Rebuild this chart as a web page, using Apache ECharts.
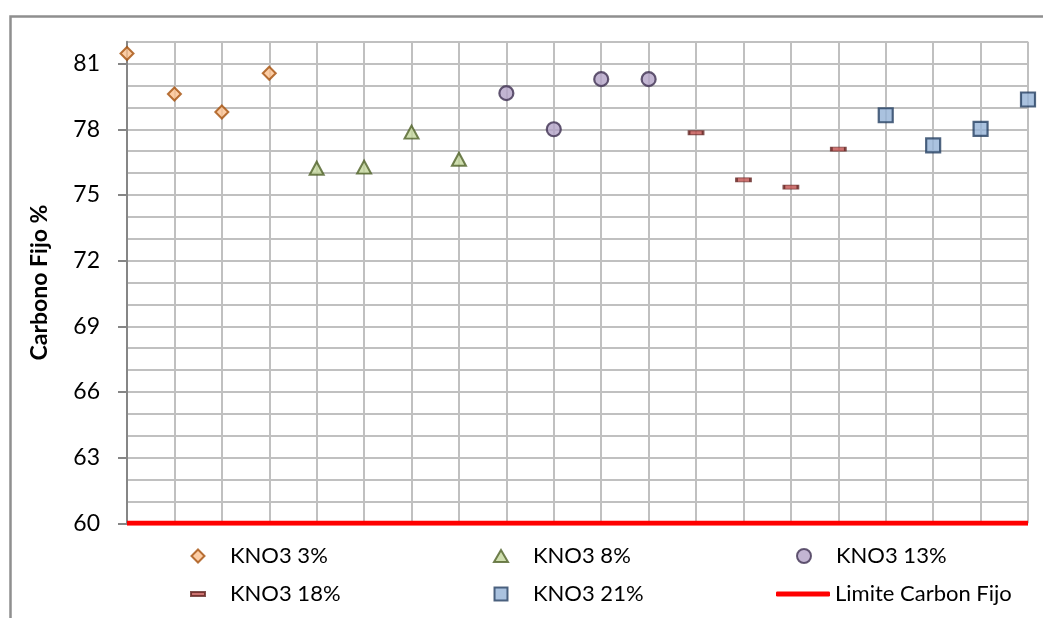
<!DOCTYPE html>
<html>
<head>
<meta charset="utf-8">
<script src="https://cdn.jsdelivr.net/npm/echarts@6/dist/echarts.min.js"></script>
<style>
html,body{margin:0;padding:0;background:#fff;}
#chart{width:1043px;height:618px;}
</style>
</head>
<body>
<div id="chart"></div>
<script>
// ---- data ----
const xKNO3_3 = [1, 2, 3, 4];
const yKNO3_3 = [81.46, 79.61, 78.79, 80.56];
const xKNO3_8 = [5, 6, 7, 8];
const yKNO3_8 = [76.22, 76.27, 77.87, 76.63];
const xKNO3_13 = [9, 10, 11, 12];
const yKNO3_13 = [79.65, 78.0, 80.29, 80.29];
const xKNO3_18 = [13, 14, 15, 16];
const yKNO3_18 = [77.84, 75.69, 75.36, 77.09];
const xKNO3_21 = [17, 18, 19, 20];
const yKNO3_21 = [78.64, 77.26, 78.02, 79.36];
const limitX = [1, 20];
const limitY = [60, 60];
const yTicks = [60, 63, 66, 69, 72, 75, 78, 81];
const seriesNames = ['KNO3 3%', 'KNO3 8%', 'KNO3 13%', 'KNO3 18%', 'KNO3 21%', 'Limite Carbon Fijo'];
const yAxisName = 'Carbono Fijo %';

const zip = (xs, ys) => xs.map((x, i) => [x, ys[i]]);
const FONT = 'Lato';

const chart = echarts.init(document.getElementById('chart'), null, {renderer: 'canvas'});

// legend icon paths: bounding box fixed to 54x14 so the glyph keeps its shape
const BOX = 'M0,0M54,14';
const icons = [
  'path://' + BOX + 'M27,0.5L33.5,7L27,13.5L20.5,7Z',
  'path://' + BOX + 'M27,1L34,13L20,13Z',
  'path://' + BOX + 'M34,7A7,7,0,1,1,20,7A7,7,0,1,1,34,7Z',
  'path://' + BOX + 'M20,5h14v4h-14Z',
  'path://' + BOX + 'M20.5,0.5h13v13h-13Z',
  'roundRect'
];

function legendAt(i, left, top, extra) {
  return Object.assign({
    data: [seriesNames[i]], left: left, top: top, orient: 'horizontal', padding: 0,
    itemWidth: 54, itemHeight: 14, selectedMode: false, icon: icons[i],
    textStyle: {fontFamily: FONT, fontSize: 22, color: '#000', lineHeight: 24}
  }, extra || {});
}

const option = {
  backgroundColor: '#fff',
  animation: false,
  graphic: [{
    type: 'rect', left: 8, top: 14, z: -10,
    shape: {x: 0, y: 0, width: 1100, height: 700},
    style: {fill: 'none', stroke: '#8f8f8f', lineWidth: 2.5}
  }],
  grid: {left: 127, right: 15, top: 41.7, bottom: 94.7, containLabel: false},
  legend: [
    legendAt(0, 170, 544),
    legendAt(1, 473, 544),
    legendAt(2, 776, 544),
    legendAt(3, 170, 582),
    legendAt(4, 473, 582),
    legendAt(5, 776, 582, {itemHeight: 5})
  ],
  xAxis: {
    type: 'value', min: 1, max: 20, interval: 1,
    axisLine: {show: false}, axisTick: {show: false}, axisLabel: {show: false},
    splitLine: {show: true, lineStyle: {color: '#c0c0c0', width: 2}}
  },
  yAxis: [{
    type: 'value', min: 60, max: 82, interval: 1,
    name: yAxisName, nameLocation: 'middle', nameGap: 76, nameRotate: 90,
    nameTextStyle: {fontFamily: FONT, fontSize: 23, fontWeight: 'bold', color: '#000'},
    axisLine: {show: false},
    axisTick: {show: false},
    axisLabel: {show: false},
    splitLine: {show: true, lineStyle: {color: '#c0c0c0', width: 2}}
  }, {
    type: 'value', min: 60, max: 82, interval: 1, position: 'left',
    axisLine: {show: true, lineStyle: {color: '#868686', width: 2}},
    axisTick: {show: true, length: 9, customValues: yTicks, lineStyle: {color: '#868686', width: 2}},
    axisLabel: {customValues: yTicks, margin: 27, fontFamily: FONT, fontSize: 23, color: '#000'},
    splitLine: {show: false}
  }],
  series: [
    {name: seriesNames[0], type: 'scatter', data: zip(xKNO3_3, yKNO3_3), symbol: 'diamond', symbolSize: 13,
     itemStyle: {color: '#FBC08F', borderColor: '#A5500C', borderWidth: 2}, z: 5},
    {name: seriesNames[1], type: 'scatter', data: zip(xKNO3_8, yKNO3_8), symbol: 'triangle', symbolSize: [14, 13],
     itemStyle: {color: '#C3D69B', borderColor: '#4F6228', borderWidth: 2}, z: 5},
    {name: seriesNames[2], type: 'scatter', data: zip(xKNO3_13, yKNO3_13), symbol: 'circle', symbolSize: 14,
     itemStyle: {color: '#B3A2C7', borderColor: '#3F3151', borderWidth: 2.2}, z: 5},
    {name: seriesNames[3], type: 'scatter', data: zip(xKNO3_18, yKNO3_18), symbol: 'rect', symbolSize: [14, 4],
     itemStyle: {color: '#C0504D', borderColor: '#632523', borderWidth: 1.5}, z: 5},
    {name: seriesNames[4], type: 'scatter', data: zip(xKNO3_21, yKNO3_21), symbol: 'rect', symbolSize: 14,
     itemStyle: {color: '#95B3D7', borderColor: '#254061', borderWidth: 2.2}, z: 5},
    {name: seriesNames[5], type: 'line', data: zip(limitX, limitY), symbol: 'none',
     lineStyle: {color: '#FF0000', width: 5}, itemStyle: {color: '#FF0000'}, z: 4}
  ]
};
chart.setOption(option);
</script>
</body>
</html>
